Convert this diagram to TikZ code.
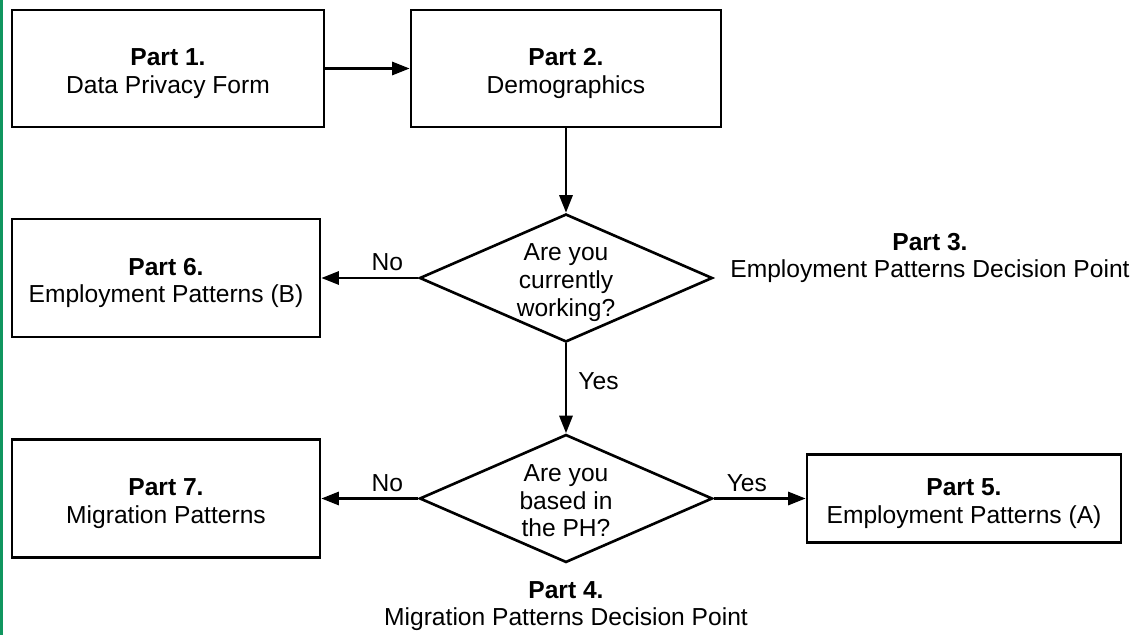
\documentclass[tikz,border=0pt]{standalone}
\usepackage{fontspec}
\setmainfont{Liberation Sans}
\usetikzlibrary{shapes.geometric,arrows.meta}
\definecolor{edgegreen}{RGB}{16,150,95}

\begin{document}
\begin{tikzpicture}[x=0.02cm,y=-0.02cm]
        \tikzset{part/.style = {shape=rectangle,draw,line width=1.6pt,inner sep=0pt,text height=31pt,
                                align=center,font=\fontsize{14}{15.5}\selectfont}}
        \tikzset{choice/.style = {shape=diamond,draw,line width=1.5pt,inner sep=0pt,aspect=2.2,
                                  text height=43.4pt,text depth=0pt,
                                  minimum width=5.86cm,minimum height=2.56cm,
                                  align=center,font=\fontsize{14}{15.7}\selectfont}}
        \tikzset{caption/.style = {align=center,font=\fontsize{14}{15.5}\selectfont}}
        \tikzset{flow/.style = {-{Triangle[length=10pt,width=7.5pt]},line width=1.5pt}}
        \tikzset{answer/.style = {font=\fontsize{14}{16}\selectfont}}
        \useasboundingbox (0,0) rectangle (1143,635);
        \fill[edgegreen] (0,0) rectangle (3,635);
        % parts
        \node[part,minimum width=6.24cm,minimum height=2.34cm] (p1) at (168,68.5)
            {\textbf{Part 1.}\\Data Privacy Form};
        \node[part,minimum width=6.2cm,minimum height=2.34cm] (p2) at (566,68.5)
            {\textbf{Part 2.}\\Demographics};
        \node[part,minimum width=6.16cm,minimum height=2.36cm] (p6) at (166,278)
            {\textbf{Part 6.}\\Employment Patterns (B)};
        \node[part,minimum width=6.16cm,minimum height=2.36cm] (p7) at (166,498.5)
            {\textbf{Part 7.}\\Migration Patterns};
        \node[part,minimum width=6.28cm,minimum height=1.76cm] (p5) at (964,498.5)
            {\textbf{Part 5.}\\Employment Patterns (A)};
        % decisions
        \node[choice] (d3) at (566,278) {Are you\\currently\\working?};
        \node[choice] (d4) at (566,498.5) {Are you\\based in\\the PH?};
        \node[caption] (c3) at (930,258)
            {\textbf{Part 3.}\\Employment Patterns Decision Point};
        \node[caption] (c4) at (566,606)
            {\textbf{Part 4.}\\Migration Patterns Decision Point};
        %edges
        \draw[flow] (p1) -- (p2);
        \draw[flow] (p2) -- (d3);
        \draw[flow] (d3) -- node[answer,pos=0.32,above] {No} (p6);
        \draw[flow] (d3) -- node[answer,pos=0.42,right=3pt] {Yes} (d4);
        \draw[flow] (d4) -- node[answer,pos=0.32,above] {No} (p7);
        \draw[flow] (d4) -- node[answer,pos=0.36,above] {Yes} (p5);
\end{tikzpicture}
\end{document}
